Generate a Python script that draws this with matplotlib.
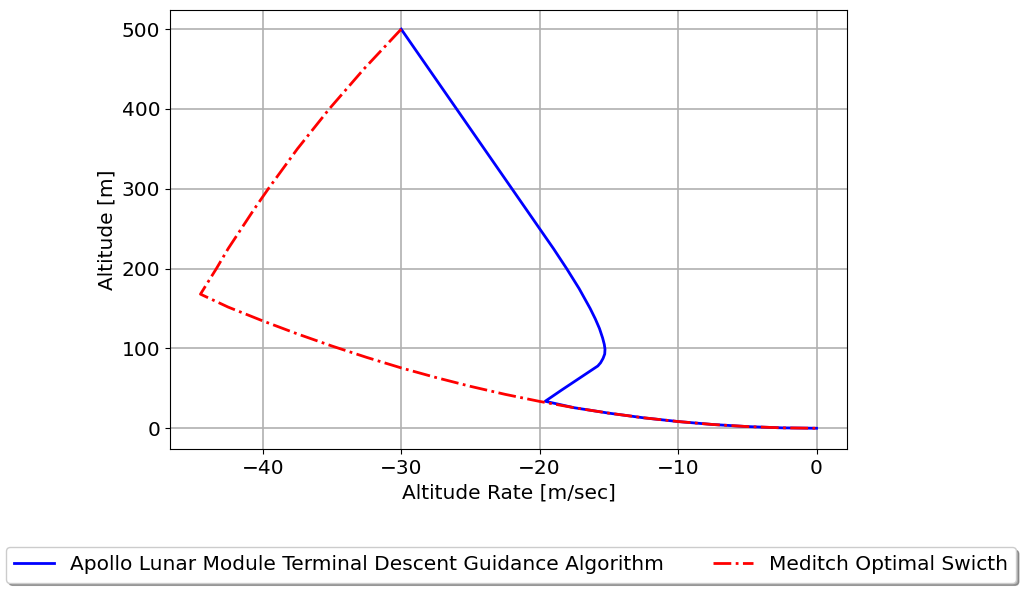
import matplotlib
matplotlib.use("Agg")
import matplotlib.pyplot as plt

# Apollo LM terminal descent guidance (altitude rate [m/s], altitude [m])
apollo_rate = [-30.0, -26.0, -22.0, -20.0, -19.0, -18.05, -17.15, -16.35,
               -15.98, -15.68, -15.45, -15.33, -15.28, -15.3, -15.42, -15.6,
               -15.8, -17.1, -18.4, -19.6,
               -17.5, -15.0, -12.5, -10.0, -7.5, -5.0, -2.5, 0.0]
apollo_alt = [500, 400, 300, 250, 225, 200, 175, 150,
              137, 125, 113, 105, 99, 93, 87.5, 82,
              78, 63, 48, 33.8,
              25.7, 18.9, 13.1, 8.4, 4.7, 2.1, 0.5, 0.0]

# Meditch optimal switching curve
meditch_rate = [-30.0, -31.35, -32.7, -33.95, -35.2, -36.35, -37.5, -38.55,
                -39.6, -40.6, -41.55, -42.5, -43.35, -44.5,
                -42.5, -40.0, -37.5, -35.0, -32.5, -30.0, -27.5, -25.0,
                -22.5, -20.0, -17.5, -15.0, -12.5, -10.0, -7.5, -5.0, -2.5, 0.0]
meditch_alt = [500, 475, 450, 425, 400, 375, 350, 325,
               300, 275, 250, 225, 200, 168,
               151.8, 134.5, 118.2, 103.0, 88.8, 75.6, 63.6, 52.5,
               42.5, 33.6, 25.7, 18.9, 13.1, 8.4, 4.7, 2.1, 0.5, 0.0]

plt.rcParams["font.size"] = 14.5

fig = plt.figure(figsize=(10.21, 5.93), dpi=100)
ax = fig.add_axes([170 / 1021, 1 - 449 / 593, 677 / 1021, 439 / 593])

ax.plot(apollo_rate, apollo_alt, color="blue", linewidth=2,
        label="Apollo Lunar Module Terminal Descent Guidance Algorithm")
ax.plot(meditch_rate, meditch_alt, color="red", linestyle="-.", linewidth=2,
        label="Meditch Optimal Swicth")

ax.set_xlim(-46.7, 2.2)
ax.set_ylim(-26, 524)
ax.set_xticks([-40, -30, -20, -10, 0])
ax.set_yticks([0, 100, 200, 300, 400, 500])
ax.grid(True, color="#b0b0b0", linewidth=1.2)
ax.set_xlabel("Altitude Rate [m/sec]")
ax.set_ylabel("Altitude [m]")

ax.legend(loc="center", ncol=2, mode="expand", shadow=True, fancybox=True,
          bbox_to_anchor=(6 / 1021, 1 - 583 / 593, 1010 / 1021, 36 / 593),
          bbox_transform=fig.transFigure, borderaxespad=0)

fig.savefig("out.png", dpi=100)
